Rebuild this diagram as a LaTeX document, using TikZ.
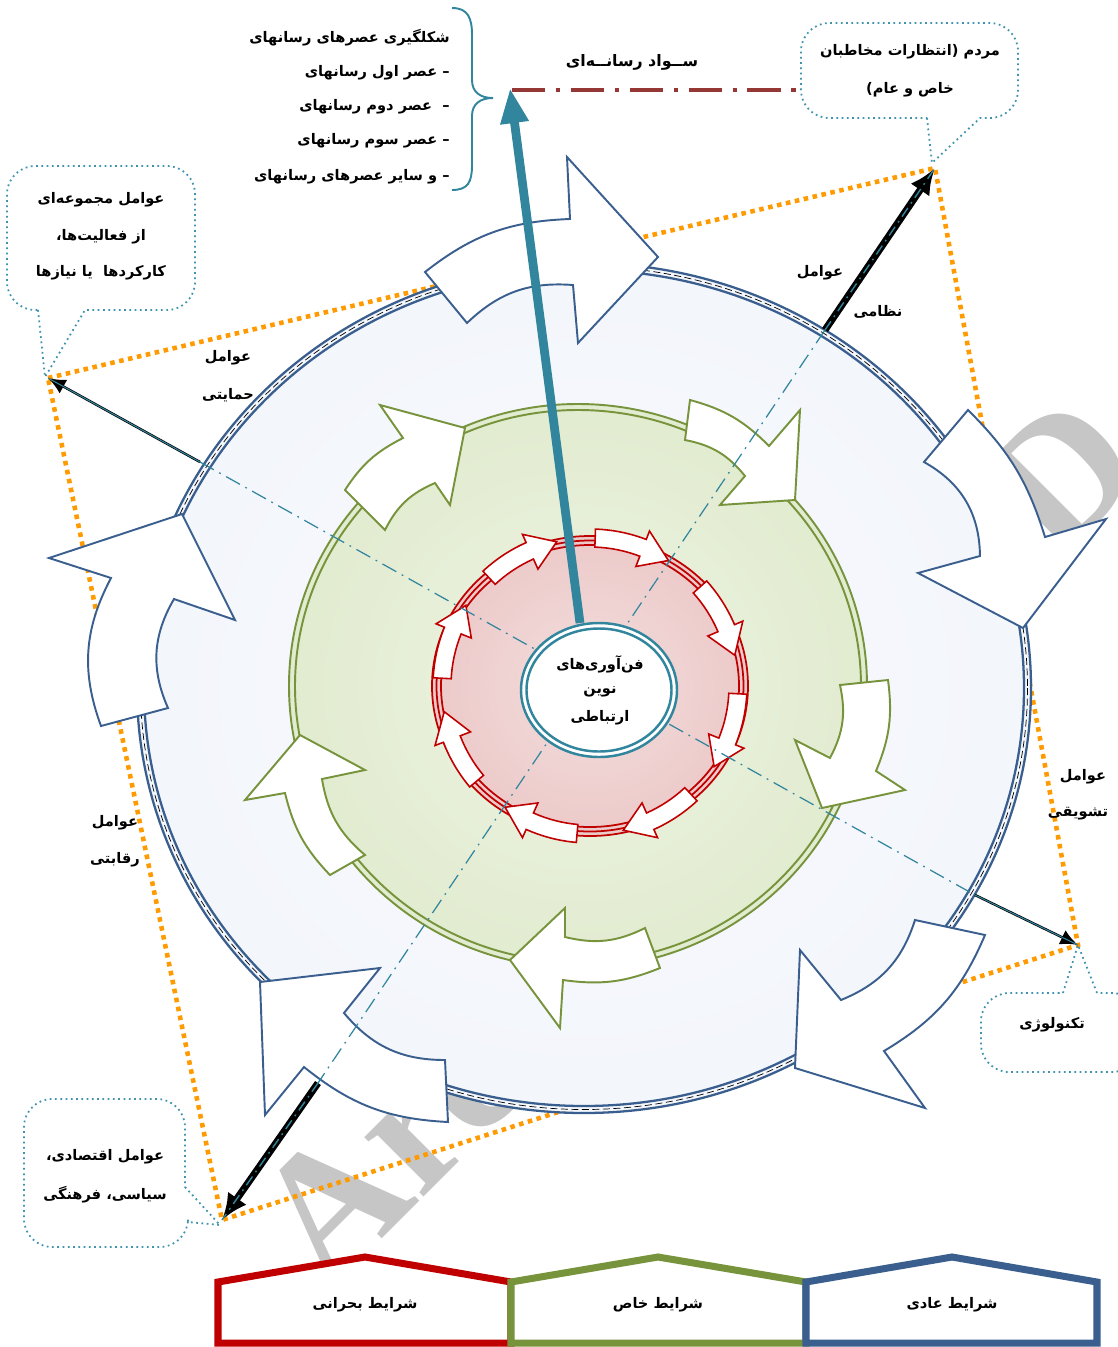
\documentclass[tikz,border=0pt]{standalone}
\usepackage{fontspec}
\setmainfont{Liberation Serif}
\newfontfamily\arfont[Script=Arabic]{DejaVu Sans}
\TeXXeTstate=1
\usetikzlibrary{arrows.meta}
\definecolor{ringblue}{HTML}{3A5F8F}
\definecolor{ringgreen}{HTML}{77933C}
\definecolor{ringred}{HTML}{C00000}
\definecolor{tealc}{HTML}{31859C}
\definecolor{orangec}{HTML}{FF9A00}
\definecolor{darkredc}{HTML}{953735}
\definecolor{calloutc}{HTML}{3F93AD}
\definecolor{bigfill}{HTML}{EBF0F8}
\definecolor{bigfillc}{HTML}{FAFBFE}
\definecolor{greenfill}{HTML}{D5E3BB}
\definecolor{greenfillc}{HTML}{EEF4E4}
\definecolor{redfill}{HTML}{E5B5B4}
\definecolor{redfillc}{HTML}{F3DEDE}
\definecolor{wmgray}{HTML}{C6C6C6}
\pgfdeclareradialshading{bigshade}{\pgfpoint{0bp}{0bp}}{color(0bp)=(bigfillc); color(50bp)=(bigfill)}
\pgfdeclareradialshading{greenshade}{\pgfpoint{0bp}{0bp}}{color(0bp)=(greenfillc); color(50bp)=(greenfill)}
\pgfdeclareradialshading{redshade}{\pgfpoint{0bp}{0bp}}{color(0bp)=(redfillc); color(50bp)=(redfill)}
\newcommand{\RL}[1]{\beginR #1\endR}
\newcommand{\redarr}[1]{%
  \draw[rarr] ({#1-30}:157) arc[start angle={#1-30}, end angle={#1-11}, radius=157]
    -- ({#1-11}:166) -- (#1:148) -- ({#1-11}:128) -- ({#1-11}:139)
    arc[start angle={#1-11}, end angle={#1-30}, radius=139] -- cycle;}
\begin{document}
\begin{tikzpicture}[x=0.02cm,y=-0.02cm,
  lab/.style={font=\arfont\bfseries\fontsize{8.3}{10}\selectfont, inner sep=0pt, text=black},
  oarr/.style={draw=ringblue, fill=white, line width=1.1pt, line join=miter},
  garr/.style={draw=ringgreen, fill=white, line width=1.1pt},
  rarr/.style={draw=ringred, fill=white, line width=0.9pt},
  orangedot/.style={draw=orangec, line width=2.6pt, dash pattern=on 2.6pt off 2.6pt},
  tealdd/.style={draw=tealc, line width=0.7pt, dash pattern=on 9pt off 3.5pt on 1pt off 3.5pt},
  callout/.style={draw=calloutc, line width=1pt, dotted},
  house/.style={line width=4pt, fill=white, line join=miter}
]
\useasboundingbox (0,0) rectangle (1118,1347);

% watermark
\node[rotate=45, anchor=base west, inner sep=0pt, text=wmgray,
  font=\fontsize{104}{104}\selectfont\bfseries] (wm) at (327,1294) {Archive of SID};

% named points
\coordinate (q1) at (48,378);
\coordinate (q2) at (935,168);
\coordinate (q3) at (1078,945);
\coordinate (q4) at (222,1220);
\coordinate (ne) at (825,330);
\coordinate (nw) at (200,462);
\coordinate (se) at (975,895);
\coordinate (sw) at (318,1083);

% orange dotted quadrilateral
\draw[orangedot] (q1) -- (q2) -- (q3) -- (q4) -- cycle;

% big circle
\shade[shading=bigshade] (584,688) ellipse [x radius=446, y radius=424];
\draw[ringblue, line width=1.3pt] (584,688) ellipse [x radius=447, y radius=425];
\draw[ringblue, line width=1.3pt] (584,688) ellipse [x radius=440, y radius=418];
\draw[black, line width=0.4pt, dash pattern=on 4pt off 2pt] (584,688) ellipse [x radius=443.5, y radius=421.5];

% green circle
\shade[shading=greenshade] (578,686) ellipse [x radius=288, y radius=281];
\draw[ringgreen, line width=1.1pt] (578,686) ellipse [x radius=289, y radius=282];
\draw[ringgreen, line width=1.1pt] (578,686) ellipse [x radius=283, y radius=276];

% red circle
\shade[shading=redshade] (590,686) ellipse [x radius=157, y radius=149];
\draw[ringred, line width=1pt] (590,686) ellipse [x radius=158, y radius=150];
\draw[ringred, line width=1pt] (590,686) ellipse [x radius=153.5, y radius=145.5];
\draw[ringred, line width=1pt] (590,686) ellipse [x radius=149, y radius=141];

% outer curved arrows
\draw[oarr] (425,272) to[bend left=18] (570,219) -- (567,157) -- (658,257) -- (578,343) -- (573,285) to[bend right=24] (467,323) -- cycle;
\draw[oarr] (968,410) to[bend left=14] (1045,537) -- (1106,519) -- (1023,628) -- (918,573) -- (980,556) to[bend right=30] (924,462) -- cycle;
\draw[oarr] (985,935) to[bend left=18] (884,1051) -- (925,1108) -- (795,1068) -- (800,950) -- (841,1000) to[bend right=25] (915,920) -- cycle;
\draw[oarr] (448,1122) to[bend left=18] (304,1067) -- (265,1115) -- (260,982) -- (380,968) -- (344,1013) to[bend right=25] (445,1060) -- cycle;
\draw[oarr] (101,726) to[bend left=24] (111,578) -- (49,558) -- (182,514) -- (235,620) -- (174,599) to[bend right=27] (168,708) -- cycle;

% green curved arrows
\draw[garr] (345,490) to[bend left=15] (403,438) -- (380,405) -- (465,428) -- (450,505) -- (435,483) to[bend right=20] (385,530) -- cycle;
\draw[garr] (690,400) to[bend left=15] (769,446) -- (800,410) -- (795,500) -- (720,505) -- (745,476) to[bend right=20] (685,440) -- cycle;
\draw[garr] (888,680) to[bend left=15] (876,771) -- (905,790) -- (822,808) -- (795,740) -- (830,758) to[bend right=20] (840,685) -- cycle;
\draw[garr] (660,968) to[bend left=15] (563,980) -- (560,1028) -- (510,960) -- (565,908) -- (565,937) to[bend right=20] (645,928) -- cycle;
\draw[garr] (330,875) to[bend left=15] (285,793) -- (245,800) -- (300,735) -- (365,770) -- (322,779) to[bend right=20] (365,855) -- cycle;

% red curved arrows
\begin{scope}[shift={(590,686)}]
\foreach \a in {-103,-58,-12,33,77,125,170,213} {\redarr{\a}}
\end{scope}

% dash-dot diagonals
\draw[tealdd] (nw) -- (se);
\draw[tealdd] (ne) -- (sw);

% external arrows
\draw[black, line width=4pt, -{Latex[length=15pt,width=13pt]}] (ne) -- (q2);
\draw[tealc, line width=0.8pt, dash pattern=on 6pt off 3pt on 1pt off 3pt] (ne) -- (q2);
\draw[black, line width=4pt, -{Latex[length=15pt,width=13pt]}] (sw) -- (q4);
\draw[tealc, line width=0.8pt, dash pattern=on 6pt off 3pt on 1pt off 3pt] (sw) -- (q4);
\draw[black, line width=1.4pt, -{Latex[length=10pt,width=9pt]}] (nw) -- (q1);
\draw[tealc, line width=0.6pt] (nw) -- (q1);
\draw[black, line width=1.4pt, -{Latex[length=10pt,width=9pt]}] (se) -- (q3);
\draw[tealc, line width=0.6pt] (se) -- (q3);

% inner ellipse
\coordinate (core) at (599,690);
\fill[white] (core) ellipse [x radius=78, y radius=67];
\draw[tealc, line width=1.4pt] (core) ellipse [x radius=78, y radius=67];
\draw[tealc, line width=1.4pt] (core) ellipse [x radius=72.5, y radius=61.5];
\node[lab] (c1) at (600,664) {\RL{فن‌آوری‌های}};
\node[lab] (c2) at (600,692) {\RL{نوین}};
\node[lab] (c3) at (600,718) {\RL{ارتباطی}};

% main teal arrow
\coordinate (tstart) at (580,623);
\coordinate (ttip) at (510,88);
\draw[tealc, line width=5pt, -{Triangle[length=20pt,width=15pt]}] (tstart) -- (ttip);

% dark red dash-dot line
\coordinate (dl1) at (512,90);
\coordinate (dl2) at (800,90);
\draw[darkredc, line width=2.3pt, dash pattern=on 19pt off 6pt on 2.5pt off 6pt] (dl1) -- (dl2);
\node[lab, font=\arfont\bfseries\fontsize{9}{11}\selectfont] (sawad) at (632,62) {\RL{ســواد رسانــه‌ای}};

% brace
\draw[tealc, line width=1.1pt] (452,8) .. controls (468,8) and (472,18) .. (472,35) -- (472,80) .. controls (472,92) and (480,98) .. (493,98) .. controls (480,98) and (472,104) .. (472,116) -- (472,165) .. controls (472,182) and (468,190) .. (452,190);

% list
\node[lab, anchor=east] (l0) at (450,38) {\RL{شکلگیری عصرهای رسانهای}};
\node[lab, anchor=east] (l1) at (450,73) {\RL{عصر اول رسانهای} –};
\node[lab, anchor=east] (l2) at (450,107) {\RL{عصر دوم رسانهای}\ \ –};
\node[lab, anchor=east] (l3) at (450,141) {\RL{عصر سوم رسانهای} –};
\node[lab, anchor=east] (l4) at (450,177) {\RL{و سایر عصرهای رسانهای} –};

% callouts
\draw[callout] (927,118) -- (932,163) -- (980,118) [rounded corners=16] -- (1018,118) -- (1018,23) -- (801,23) -- (801,118) [sharp corners] -- (927,118);
\node[lab] (m1) at (910,52) {\RL{مردم (انتظارات مخاطبان}};
\node[lab] (m2) at (910,90) {\RL{خاص و عام)}};

\draw[callout] (38,310) -- (45,377) -- (85,310) [rounded corners=16] -- (195,310) -- (195,166) -- (7,166) -- (7,310) [sharp corners] -- (38,310);
\node[lab] (k1) at (101,200) {\RL{عوامل مجموعه‌ای}};
\node[lab] (k2) at (101,237) {\RL{از فعالیت‌ها،}};
\node[lab] (k3) at (101,273) {\RL{کارکردها\ \ یا نیازها}};

\draw[callout] (1063,993) -- (1078,945) -- (1097,993) [rounded corners=16] -- (1140,993) -- (1140,1072) -- (981,1072) -- (981,993) [sharp corners] -- (1063,993);
\node[lab] (t1) at (1052,1025) {\RL{تکنولوژی}};

\draw[callout] (185,1187) -- (220,1225) -- (188,1222) [rounded corners=16] -- (188,1247) -- (24,1247) -- (24,1099) -- (185,1099) [sharp corners] -- (185,1187);
\node[lab] (e1) at (105,1157) {\RL{عوامل اقتصادی،}};
\node[lab] (e2) at (105,1195) {\RL{سیاسی، فرهنگی}};

% factor labels
\node[lab] (f1) at (820,273) {\RL{عوامل}};
\node[lab] (f2) at (878,312) {\RL{نظامی}};
\node[lab] (f3) at (228,358) {\RL{عوامل}};
\node[lab] (f4) at (228,395) {\RL{حمایتی}};
\node[lab] (f5) at (1083,777) {\RL{عوامل}};
\node[lab] (f6) at (1078,814) {\RL{تشویقی}};
\node[lab] (f7) at (115,823) {\RL{عوامل}};
\node[lab] (f8) at (115,860) {\RL{رقابتی}};

% houses
\draw[house, draw=ringred] (218,1343) -- (218,1282) -- (365,1257) -- (511,1282) -- (511,1343) -- cycle;
\draw[house, draw=ringgreen] (511,1343) -- (511,1282) -- (658,1257) -- (806,1282) -- (806,1343) -- cycle;
\draw[house, draw=ringblue] (806,1343) -- (806,1282) -- (952,1257) -- (1097,1282) -- (1097,1343) -- cycle;
\node[lab] (h1) at (365,1305) {\RL{شرایط بحرانی}};
\node[lab] (h2) at (658,1305) {\RL{شرایط خاص}};
\node[lab] (h3) at (952,1305) {\RL{شرایط عادی}};
\end{tikzpicture}
\end{document}
